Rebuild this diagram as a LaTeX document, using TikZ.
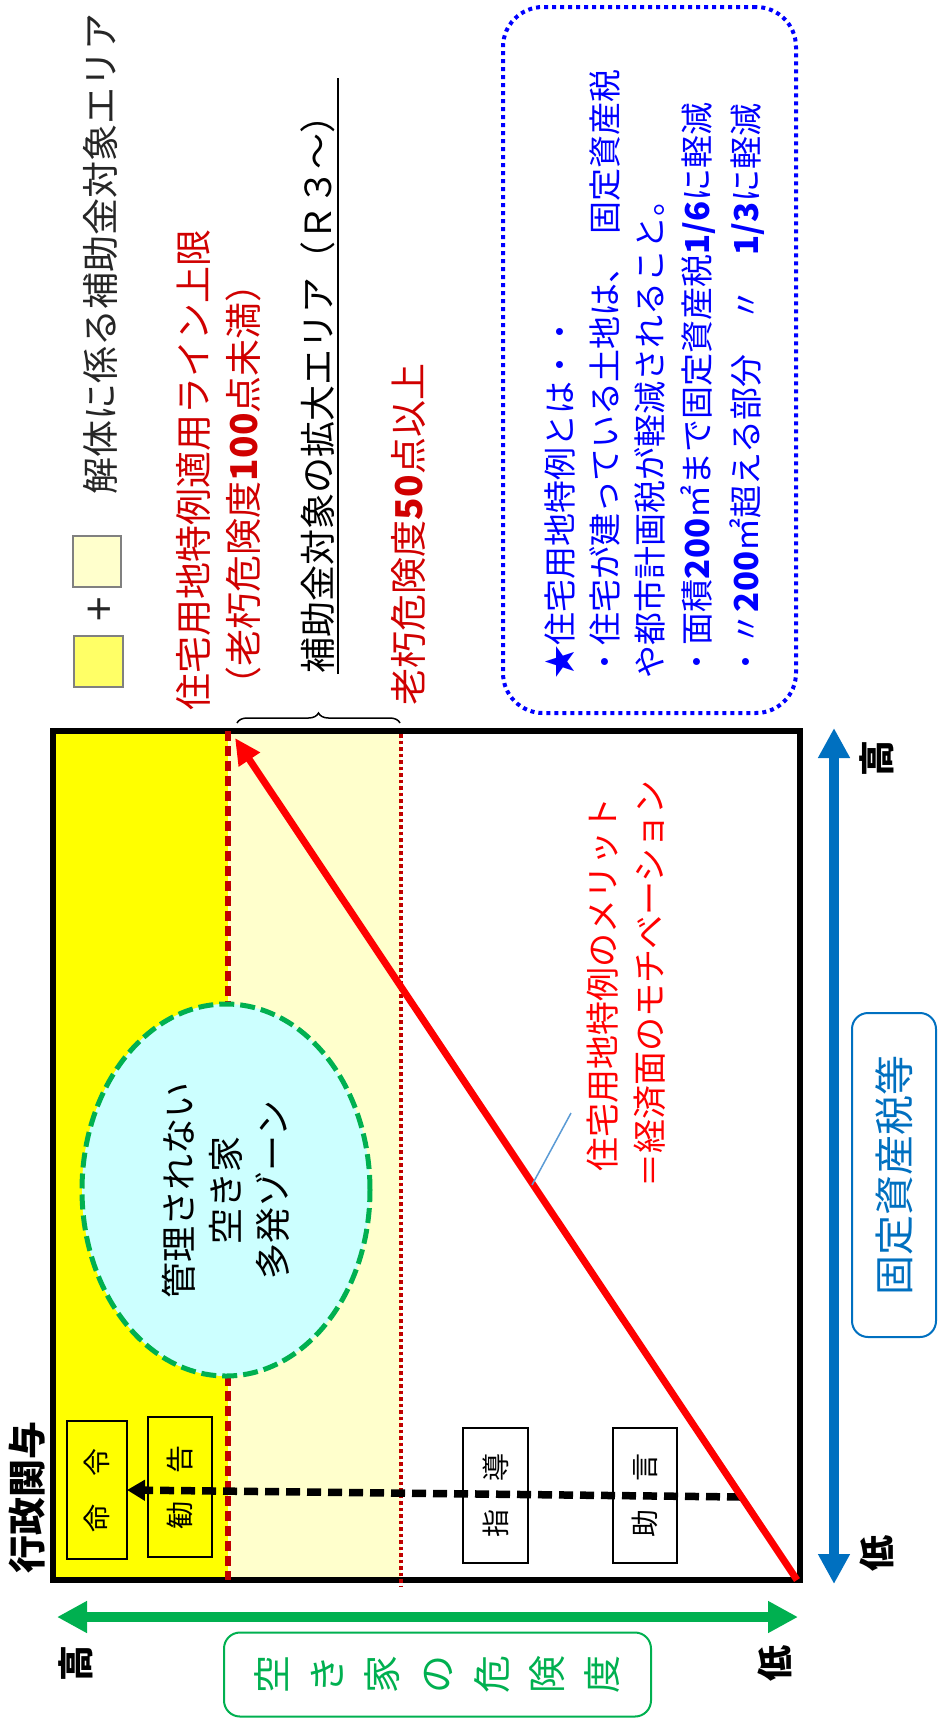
\documentclass[tikz,border=0pt]{standalone}
\usepackage{fontspec}
\setmainfont{Noto Sans CJK JP}
\usetikzlibrary{arrows.meta,decorations.pathreplacing,shapes.geometric}
\definecolor{ylw}{HTML}{FFFF00}
\definecolor{lylw}{HTML}{FFFFCC}
\definecolor{legy}{HTML}{FFFF66}
\definecolor{dred}{HTML}{C00000}
\definecolor{tred}{HTML}{D00000}
\definecolor{grn}{HTML}{00B050}
\definecolor{blu}{HTML}{0070C0}
\definecolor{cyanf}{HTML}{CCFFFF}
\definecolor{lead}{HTML}{5B9BD5}
\definecolor{txtb}{HTML}{0000FF}
\definecolor{legtxt}{HTML}{262626}
\newcommand{\jfs}[2]{\fontsize{#1}{#2}\selectfont}
\begin{document}
\begin{tikzpicture}[x=1pt,y=-1pt,every node/.style={inner sep=0pt,outer sep=0pt},
  vtxt/.style={rotate=90},
  actbox/.style={draw,line width=1.8pt,rotate=90,font=\jfs{28}{28}},
  hilo/.style={rotate=90,font=\bfseries\jfs{36}{36}},
  bigarrow/.style={line width=10pt,{Triangle[length=30pt,width=30pt]}-{Triangle[length=30pt,width=30pt]}},
  legbox/.style={draw=gray,line width=2pt,minimum width=48pt,minimum height=51pt}]
\fill[white] (0,0) rectangle (939,1719);
\useasboundingbox (0,0) rectangle (939,1719);

% zones
\fill[ylw] (53,731) rectangle (228,1580);
\fill[lylw] (228,731) rectangle (401,1580);
\node[draw,line width=6pt,minimum width=747pt,minimum height=849pt] (chart) at (426.5,1155.5) {};
\draw[dred,line width=5.3pt,dash pattern=on 10pt off 5pt] (228,731) -- (228,1580);
\draw[dred,line width=4pt,dash pattern=on 3.5pt off 3pt] (401,734) -- (401,1586);

% ellipse zone
\node[ellipse,draw=grn,fill=cyanf,line width=5pt,dash pattern=on 15pt off 6pt,minimum width=288pt,minimum height=372pt] (zone) at (226,1190) {};
\node[vtxt,align=center,font=\jfs{36}{47}] (zonetxt) at (zone.center) {管理されない\\空き家\\多発ゾーン};

% action boxes
\node[actbox,fill=ylw,minimum width=138pt,minimum height=60pt] (meirei) at (97,1490) {命　令};
\node[actbox,fill=ylw,minimum width=140pt,minimum height=64pt] (kankoku) at (180,1487) {勧　告};
\node[actbox,fill=white,minimum width=135pt,minimum height=65pt] (shido) at (495.5,1495.5) {指　導};
\node[actbox,fill=white,minimum width=135pt,minimum height=64pt] (jogen) at (645,1495.5) {助　言};

% red line
\coordinate (corner) at (797,1580);
\coordinate (redtip) at (235,738);
\coordinate (dstart) at (741,1497);
\draw[line width=7.5pt,dash pattern=on 14pt off 7pt,-{Triangle[length=18pt,width=20pt]}] (dstart) -- (meirei.south);
\draw[red,line width=7pt,-{Triangle[length=26pt,width=24pt]}] (corner) -- (redtip);

% merit label
\coordinate (leadA) at (532,1185);
\coordinate (leadB) at (571,1113);
\draw[lead,line width=1.5pt] (leadA) -- (leadB);
\node[vtxt,align=center,text=red,font=\jfs{34}{47}] (merit) at (626.5,984) {住宅用地特例のメリット\\＝経済面のモチベーション};

% admin label
\node[vtxt,font=\bfseries\jfs{38}{38}] (gyosei) at (27,1497) {行政関与};

% axes
\coordinate (bA) at (834,1584);
\coordinate (bB) at (834,728);
\draw[blu,bigarrow] (bA) -- (bB);
\coordinate (gA) at (57,1617);
\coordinate (gB) at (798,1617);
\draw[grn,bigarrow] (gA) -- (gB);
\node[hilo] (bhi) at (877,758) {高};
\node[hilo] (blo) at (877,1553) {低};
\node[hilo] (ghi) at (76,1663) {高};
\node[hilo] (glo) at (775,1663) {低};
\node[vtxt,draw=blu,line width=2pt,rounded corners=16pt,minimum width=324pt,minimum height=84pt,text=blu,font=\jfs{40}{40}] (tax) at (894,1175) {固定資産税等};
\node[vtxt,draw=grn,line width=2pt,rounded corners=16pt,minimum width=84pt,minimum height=427pt,text=grn,align=center,font=\jfs{38}{55}] (kiken) at (437.5,1674.5) {空\\き\\家\\の\\危\\険\\度};

% legend
\node[legbox,fill=lylw] (leg1) at (97,561.5) {};
\node[vtxt,text=legtxt,font=\jfs{44}{44}] (plus) at (102,609) {+};
\node[legbox,fill=legy,minimum width=49pt] (leg2) at (98.5,661.5) {};
\node[vtxt,text=legtxt,font=\jfs{37}{37}] (legtext) at (100,254) {解体に係る補助金対象エリア};

% top labels
\node[vtxt,anchor=west,text=tred,font=\jfs{37}{37}] (lim1) at (193,710) {住宅用地特例適用ライン上限};
\node[vtxt,anchor=west,text=tred,font=\jfs{37}{37}] (lim2) at (243,703) {（老朽危険度\textbf{100}点未満）};
\node[vtxt,anchor=west,text=black,font=\jfs{36}{36}] (expand) at (318,673) {補助金対象の拡大エリア（Ｒ３～）};
\draw[line width=1.5pt] (338,674) -- (338,78);
\node[vtxt,anchor=west,text=tred,font=\jfs{37}{37}] (over50) at (408,705) {老朽危険度\textbf{50}点以上};
\draw[line width=1.5pt,decorate,decoration={brace,amplitude=10pt}] (237,723) -- (400,723);

% tokurei box
\node[draw=txtb,line width=4pt,dash pattern=on 4pt off 4pt,rounded corners=40pt,minimum width=293pt,minimum height=706pt] (tokurei) at (649.5,360) {};
\node[vtxt,anchor=west,text=txtb,font=\jfs{33}{33}] (t1) at (560,678) {★住宅用地特例とは・・};
\node[vtxt,anchor=west,text=txtb,font=\jfs{33}{33}] (t2) at (605,678) {・住宅が建っている土地は、\hspace{0.5em}固定資産税};
\node[vtxt,anchor=west,text=txtb,font=\jfs{33}{33}] (t3) at (650,678) {や都市計画税が軽減されること。};
\node[vtxt,anchor=west,text=txtb,font=\jfs{33}{33}] (t4) at (698,678) {・面積\textbf{200}㎡まで固定資産税\textbf{1/6}に軽減};
\node[vtxt,anchor=west,text=txtb,font=\jfs{33}{33}] (t5) at (747,678) {・〃\textbf{200}㎡超える部分　〃　\textbf{1/3}に軽減};
\end{tikzpicture}
\end{document}
